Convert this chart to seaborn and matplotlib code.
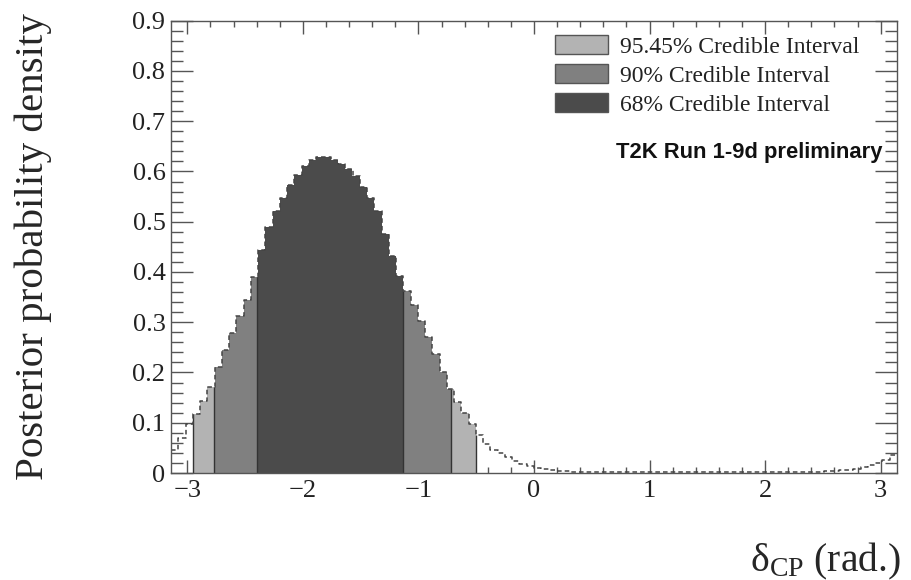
import numpy as np
import pandas as pd
import matplotlib
matplotlib.use("Agg")
import matplotlib.pyplot as plt
from matplotlib.patches import Patch
from matplotlib.ticker import MultipleLocator, FuncFormatter
import seaborn as sns

# ---------------- data ----------------
x_min, x_max = -np.pi, np.pi
n_bins = 100
density = [
    0.045, 0.070, 0.098, 0.118, 0.143, 0.172, 0.210, 0.245, 0.278, 0.312,
    0.345, 0.390, 0.443, 0.490, 0.522, 0.548, 0.573, 0.592, 0.610, 0.622,
    0.628, 0.628, 0.623, 0.615, 0.605, 0.590, 0.570, 0.548, 0.522, 0.475,
    0.432, 0.392, 0.362, 0.334, 0.303, 0.271, 0.236, 0.200, 0.168, 0.142,
    0.120, 0.098, 0.075, 0.057, 0.046, 0.039, 0.031, 0.024, 0.018, 0.013,
    0.009, 0.007, 0.005, 0.004, 0.003, 0.002, 0.002, 0.002, 0.0015, 0.001,
    0.001, 0.001, 0.001, 0.001, 0.001, 0.001, 0.001, 0.001, 0.001, 0.001,
    0.001, 0.001, 0.001, 0.001, 0.001, 0.001, 0.001, 0.001, 0.001, 0.001,
    0.001, 0.001, 0.001, 0.001, 0.001, 0.001, 0.001, 0.0015, 0.002, 0.0025,
    0.003, 0.004, 0.005, 0.006, 0.008, 0.011, 0.015, 0.020, 0.026, 0.035,
]
interval_labels = ["95.45% Credible Interval", "90% Credible Interval", "68% Credible Interval"]
interval_lo = [-2.95, -2.77, -2.40]
interval_hi = [-0.50, -0.72, -1.13]
interval_colors = ["#b3b3b3", "#808080", "#4b4b4b"]
x_ticks = [-3, -2, -1, 0, 1, 2, 3]
y_ticks = [0, 0.1, 0.2, 0.3, 0.4, 0.5, 0.6, 0.7, 0.8, 0.9]
annotation = "T2K Run 1-9d preliminary"

# ---------------- style ----------------
sns.set_theme(style="ticks")
plt.rcParams["font.family"] = ["Liberation Serif", "DejaVu Serif"]
plt.rcParams["mathtext.fontset"] = "custom"
plt.rcParams["mathtext.rm"] = "Liberation Serif"
plt.rcParams["mathtext.it"] = "Liberation Serif:italic"

W, H = 912, 580
fig = plt.figure(figsize=(W / 100, H / 100), dpi=100)
ax = fig.add_axes([171 / W, 1 - 473 / H, (897 - 171) / W, (473 - 20.7) / H])

edges = np.linspace(x_min, x_max, n_bins + 1)
centers = 0.5 * (edges[:-1] + edges[1:])
vals = np.array(density)
df = pd.DataFrame({"delta": centers, "density": vals})


def bin_val(x):
    k = int(np.clip(np.searchsorted(edges, x, side="right") - 1, 0, n_bins - 1))
    return vals[k]


# filled credible intervals
for lo, hi, col in zip(interval_lo, interval_hi, interval_colors):
    inside = [(e, vals[k]) for k, e in enumerate(edges[:-1]) if lo < e < hi]
    xs = [lo] + [p[0] for p in inside] + [hi]
    ys = [bin_val(lo)] + [p[1] for p in inside] + [bin_val(hi - 1e-9)]
    ax.fill_between(xs, 0, ys, step="post", color=col, linewidth=0)

# boundary lines
for lo, hi in zip(interval_lo, interval_hi):
    ax.vlines([lo], 0, bin_val(lo), color="#333333", lw=1.0)
    ax.vlines([hi], 0, bin_val(hi - 1e-9), color="#333333", lw=1.0)

# full posterior as dashed step outline
sns.histplot(data=df, x="delta", weights="density", bins=list(edges), element="step",
             fill=False, color="#444444", linestyle=(0, (3, 2)), linewidth=1.1, ax=ax)

ax.set_xlim(x_min, x_max)
ax.set_ylim(0, 0.9)
ax.set_xlabel("")
ax.set_ylabel("")

ax.xaxis.set_minor_locator(MultipleLocator(0.2))
ax.yaxis.set_minor_locator(MultipleLocator(0.02))
ax.set_xticks(x_ticks)
ax.set_yticks(y_ticks)
ax.yaxis.set_major_formatter(FuncFormatter(lambda v, p: "0" if abs(v) < 1e-9 else f"{v:.1f}"))

ax.tick_params(which="both", direction="in", top=True, right=True, colors="#555555", labelcolor="#222222")
ax.tick_params(axis="x", which="major", length=9.5, width=1, labelsize=19, pad=5)
ax.tick_params(axis="x", which="minor", length=4.5, width=1)
ax.tick_params(axis="y", which="major", length=16, width=1, labelsize=19, pad=4)
ax.tick_params(axis="y", which="minor", length=8.5, width=1)
for s in ax.spines.values():
    s.set_color("#555555")
    s.set_linewidth(1.0)

# legend
handles = [Patch(facecolor=c, edgecolor="#555555", linewidth=1.0) for c in interval_colors]
leg = ax.legend(handles, interval_labels, loc="upper left",
                bbox_to_anchor=(555 / W, 1 - 35 / H), bbox_transform=fig.transFigure,
                frameon=False, fontsize=17, handlelength=2.25, handleheight=0.85,
                handletextpad=0.5, labelspacing=0.28, borderpad=0, borderaxespad=0)
for t in leg.get_texts():
    t.set_color("#222222")

fig.text(883 / W, 1 - 152 / H, annotation, ha="right", va="center",
         family=["Liberation Sans", "DejaVu Sans"], fontweight="bold", fontsize=15.8,
         color="#111111")

fig.text(33 / W, 1 - 247 / H, "Posterior probability density", rotation=90,
         ha="center", va="center", fontsize=29.5)
fig.text(901 / W, 1 - 571 / H, r"δ$_{\mathrm{CP}}$ (rad.)", ha="right", va="baseline",
         fontsize=28.5)

fig.savefig("out.png", dpi=100)
